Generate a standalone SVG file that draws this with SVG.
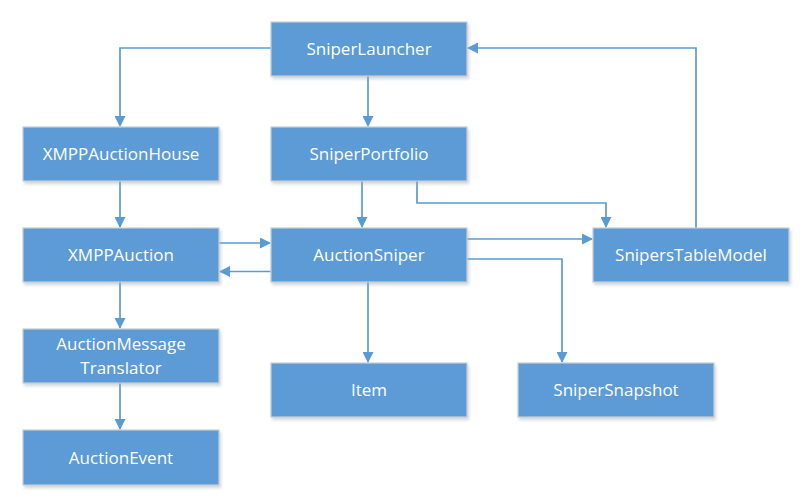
<svg xmlns="http://www.w3.org/2000/svg" width="809" height="504" viewBox="0 0 809 504">
<style>
.box{fill:#5B9BD5;stroke:#C8CDD3;stroke-width:1.2;filter:url(#sh)}
.lbl{font-family:"Open Sans","Noto Sans",sans-serif;font-size:17px;fill:#FFFFFF;text-anchor:middle}
.c{fill:none;stroke:#5B9BD5;stroke-width:1.7;marker-end:url(#ah)}
</style>
<defs>
<filter id="sh" x="-10%" y="-20%" width="120%" height="150%">
<feDropShadow dx="1.5" dy="2.5" stdDeviation="1.5" flood-color="#9AA6B2" flood-opacity="0.45"/>
</filter>
<marker id="ah" markerUnits="userSpaceOnUse" markerWidth="11" markerHeight="11" refX="10" refY="5.5" orient="auto">
<path d="M0,0 L11,5.5 L0,11 z" fill="#5B9BD5"/>
</marker>
</defs>
<g id="connectors">
<path class="c" d="M271,48 H120 V126"/>
<path class="c" d="M368,76 V126"/>
<path class="c" d="M120,181 V227"/>
<path class="c" d="M362,181 V227"/>
<path class="c" d="M417,181 V203 H606 V227"/>
<path class="c" d="M219,243 H270"/>
<path class="c" d="M271,271.5 H220"/>
<path class="c" d="M467,239 H592"/>
<path class="c" d="M467,259 H562 V362"/>
<path class="c" d="M696,228 V48 H468"/>
<path class="c" d="M368,282 V362"/>
<path class="c" d="M120,282 V328"/>
<path class="c" d="M120,383 V429"/>
</g>
<g id="SniperLauncher"><rect class="box" x="271" y="22" width="196" height="54"/><text class="lbl" x="369" y="55">SniperLauncher</text></g>
<g id="XMPPAuctionHouse"><rect class="box" x="23" y="127" width="196" height="54"/><text class="lbl" x="121" y="160">XMPPAuctionHouse</text></g>
<g id="SniperPortfolio"><rect class="box" x="271" y="127" width="196" height="54"/><text class="lbl" x="369" y="160">SniperPortfolio</text></g>
<g id="XMPPAuction"><rect class="box" x="23" y="228" width="196" height="54"/><text class="lbl" x="121" y="261">XMPPAuction</text></g>
<g id="AuctionSniper"><rect class="box" x="271" y="228" width="196" height="54"/><text class="lbl" x="369" y="261">AuctionSniper</text></g>
<g id="SnipersTableModel"><rect class="box" x="593" y="228" width="196" height="54"/><text class="lbl" x="691" y="261">SnipersTableModel</text></g>
<g id="AuctionMessageTranslator"><rect class="box" x="23" y="329" width="196" height="54"/><text class="lbl" x="121" y="350">AuctionMessage</text><text class="lbl" x="121" y="374">Translator</text></g>
<g id="Item"><rect class="box" x="271" y="363" width="196" height="54"/><text class="lbl" x="369" y="396">Item</text></g>
<g id="SniperSnapshot"><rect class="box" x="518" y="363" width="196" height="54"/><text class="lbl" x="616" y="396">SniperSnapshot</text></g>
<g id="AuctionEvent"><rect class="box" x="23" y="430" width="196" height="55"/><text class="lbl" x="121" y="464">AuctionEvent</text></g>
</svg>
